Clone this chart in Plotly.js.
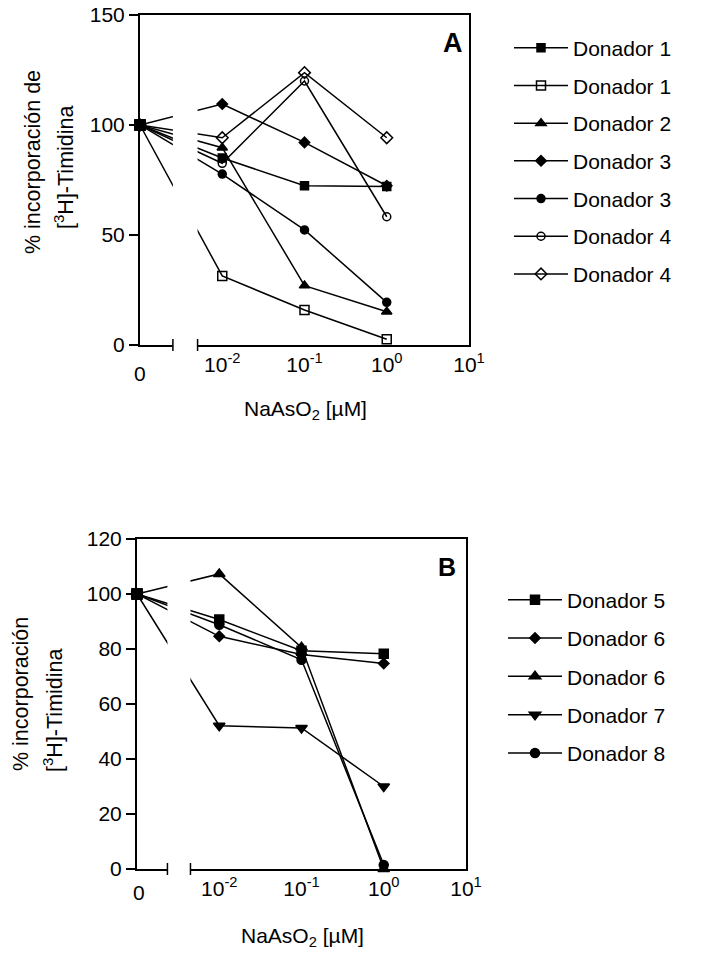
<!DOCTYPE html>
<html><head><meta charset="utf-8">
<script src="https://cdn.plot.ly/plotly-3.0.1.min.js"></script>
<style>body{margin:0;background:#fff}</style>
</head><body><div id="chart" style="width:701px;height:959px"></div>
<script>
// ---------- DATA ----------
const concA = [0, 0.01, 0.1, 1];           // NaAsO2 [µM], 0 = control
const namesA = ['Donador 1','Donador 1','Donador 2','Donador 3','Donador 3','Donador 4','Donador 4'];
const d1Filled      = [100, 85.0, 72.4, 72.0];
const d1Open        = [100, 31.4, 15.9, 2.6];
const d2Triangle    = [100, 89.7, 27.0, 15.1];
const d3Diamond     = [100, 109.5, 92.1, 72.4];
const d3Circle      = [100, 77.7, 52.3, 19.4];
const d4OpenCircle  = [100, 82.6, 120.0, 58.3];
const d4OpenDiamond = [100, 94.2, 123.8, 94.2];

const concB = [0, 0.01, 0.1, 1];
const namesB = ['Donador 5','Donador 6','Donador 6','Donador 7','Donador 8'];
const d5Square   = [100, 90.7, 79.4, 78.3];
const d6Diamond  = [100, 84.6, 78.0, 74.7];
const d6Triangle = [100, 107.3, 80.6, 0.0];
const d7TriDown  = [100, 52.1, 51.3, 30.0];
const d8Circle   = [100, 88.8, 76.1, 1.5];

const xTickVals = [0.01, 0.1, 1, 10];
const xTickText = ['10<sup>-2</sup>','10<sup>-1</sup>','10<sup>0</sup>','10<sup>1</sup>'];
const zeroLabel = '0';
const yTicksA = [0, 50, 100, 150];
const yTicksB = [0, 20, 40, 60, 80, 100, 120];
const xTitle = 'NaAsO<sub>2</sub> [µM]';
const yTitleA = ['% incorporación de', '[<sup>3</sup>H]-Timidina'];
const yTitleB = ['% incorporación', '[<sup>3</sup>H]-Timidina'];

// ---------- HELPERS ----------
const W = 701, H = 959;
const ZERO_POS = -3;                          // position of the "0" segment on the broken axis
const pos = v => v === 0 ? ZERO_POS : Math.log10(v);
const FONT = 'Liberation Sans, Arial, sans-serif';
const px = x => x / W, py = y => 1 - y / H;

const boxA = {l:140, r:469, t:15, b:345};
const boxB = {l:137, r:466, t:539, b:869};
const gapA = [-2.6, -2.3], gapB = [-2.63, -2.35];

const styleA = [
  {s:'square', sz:8}, {s:'square-open', sz:9}, {s:'triangle-up', sz:9},
  {s:'diamond', sz:8}, {s:'circle', sz:8}, {s:'circle-open', sz:8}, {s:'diamond-open', sz:9}
];
const styleB = [
  {s:'square', sz:9}, {s:'diamond', sz:8}, {s:'triangle-up', sz:10},
  {s:'triangle-down', sz:10}, {s:'circle', sz:9}
];

function mk(conc, ys, name, st, xa, ya, leg) {
  return {
    type:'scatter', mode:'lines+markers', name:name,
    x: conc.map(pos), y: ys, xaxis:xa, yaxis:ya, legend:leg,
    legendgroup: leg + name + st.s,
    line:{color:'#000', width:1.5},
    marker:{symbol:st.s, size:st.sz, color:'#000', line:{color:'#000', width:1.5}},
    cliponaxis:false, hoverinfo:'x+y'
  };
}
function zeroTrace(conc, seriesList, xa, ya) {
  const xs = [], ys = [];
  seriesList.forEach(s => { conc.forEach((c,i) => { if (c === 0) { xs.push(pos(c)); ys.push(s[i]); } }); });
  return {type:'scatter', mode:'markers', x:xs, y:ys, xaxis:xa, yaxis:ya, showlegend:false,
    marker:{symbol:'square', size:11, color:'#000'}, cliponaxis:false, hoverinfo:'skip'};
}

const seriesA = [d1Filled, d1Open, d2Triangle, d3Diamond, d3Circle, d4OpenCircle, d4OpenDiamond];
const seriesB = [d5Square, d6Diamond, d6Triangle, d7TriDown, d8Circle];

const traces = [];
seriesA.forEach((s,i) => traces.push(mk(concA, s, namesA[i], styleA[i], 'x', 'y', 'legend')));
traces.push(zeroTrace(concA, seriesA, 'x', 'y'));
seriesB.forEach((s,i) => traces.push(mk(concB, s, namesB[i], styleB[i], 'x2', 'y2', 'legend2')));
traces.push(zeroTrace(concB, seriesB, 'x2', 'y2'));

function xaxis(box, anchor) {
  return {
    domain:[px(box.l), px(box.r)], anchor:anchor, type:'linear', range:[ZERO_POS, 1],
    tickvals: xTickVals.map(pos), ticktext: xTickText, ticks:'',
    showline:true, mirror:true, linecolor:'#000', linewidth:2,
    showgrid:false, zeroline:false, tickfont:{family:FONT, size:21, color:'#000'},
    ticklabelstandoff: 0
  };
}
function yaxis(box, anchor, ticks, maxv) {
  return {
    domain:[py(box.b), py(box.t)], anchor:anchor, range:[0, maxv],
    tickvals: ticks, ticks:'outside', ticklen:9, tickwidth:1.5, tickcolor:'#000',
    showline:true, mirror:true, linecolor:'#000', linewidth:2,
    showgrid:false, zeroline:false, tickfont:{family:FONT, size:21, color:'#000'}
  };
}

function gapShapes(box, gap) {
  const sx = v => px(box.l + (v - ZERO_POS) / (1 - ZERO_POS) * (box.r - box.l));
  const a = sx(gap[0]), b = sx(gap[1]);
  return [
    {type:'rect', xref:'paper', yref:'paper', x0:a, x1:b, y0:py(box.b + 5), y1:py(box.t + 3),
     fillcolor:'#fff', line:{width:0}, layer:'above'},
    {type:'line', xref:'paper', yref:'paper', x0:a, x1:a, y0:py(box.b - 6), y1:py(box.b + 6),
     line:{color:'#000', width:1.5}, layer:'above'},
    {type:'line', xref:'paper', yref:'paper', x0:b, x1:b, y0:py(box.b - 6), y1:py(box.b + 6),
     line:{color:'#000', width:1.5}, layer:'above'}
  ];
}

function ann(text, x, y, size, extra) {
  return Object.assign({text:text, xref:'paper', yref:'paper', x:px(x), y:py(y),
    xanchor:'center', yanchor:'middle', showarrow:false,
    font:{family:FONT, size:size, color:'#000'}}, extra || {});
}

const annotations = [
  ann('<b>A</b>', 453, 43, 27),
  ann('<b>B</b>', 447, 567, 25),
  ann(yTitleA[0], 33, 162, 21.5, {textangle:-90}),
  ann(yTitleA[1], 64, 167, 21.5, {textangle:-90}),
  ann(yTitleB[0], 21, 694, 21.5, {textangle:-90}),
  ann(yTitleB[1], 53, 710, 21.5, {textangle:-90}),
  ann(xTitle, 305, 410, 21),
  ann(xTitle, 302, 937, 21),
  ann(zeroLabel, 140, 373, 21),
  ann(zeroLabel, 139, 892, 21)
];

const layout = {
  width:W, height:H, margin:{l:0, r:0, t:0, b:0, autoexpand:false},
  paper_bgcolor:'#fff', plot_bgcolor:'#fff', font:{family:FONT, color:'#000'},
  xaxis: xaxis(boxA, 'y'), yaxis: yaxis(boxA, 'x', yTicksA, 150),
  xaxis2: xaxis(boxB, 'y2'), yaxis2: yaxis(boxB, 'x2', yTicksB, 120),
  legend: {x:px(509), y:py(27.6), xanchor:'left', yanchor:'top', font:{family:FONT, size:21, color:'#000'},
           itemwidth:54, tracegroupgap:7.4, bgcolor:'rgba(0,0,0,0)'},
  legend2: {x:px(503), y:py(579.6), xanchor:'left', yanchor:'top', font:{family:FONT, size:21, color:'#000'},
           itemwidth:54, tracegroupgap:8, bgcolor:'rgba(0,0,0,0)'},
  shapes: gapShapes(boxA, gapA).concat(gapShapes(boxB, gapB)),
  annotations: annotations,
  showlegend:true
};

Plotly.newPlot('chart', traces, layout, {displayModeBar:false, staticPlot:true});
</script>
</body></html>
